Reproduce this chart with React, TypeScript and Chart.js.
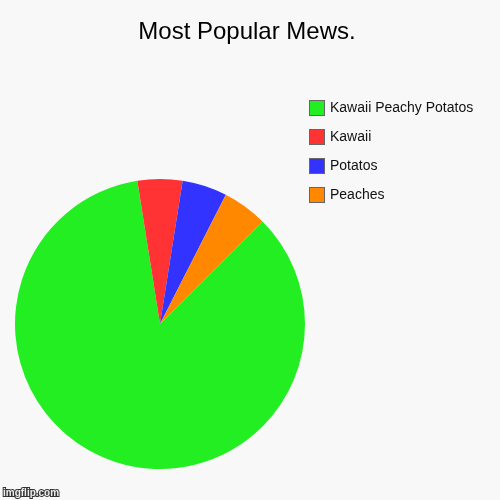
import { Chart, registerables } from 'chart.js';
import { useEffect, useRef } from 'react';

Chart.register(...registerables);

const labels = ['Kawaii Peachy Potatos', 'Kawaii', 'Potatos', 'Peaches'];
const values = [85, 5, 5, 5];
const colors = ['#22ee22', '#ff3333', '#3333ff', '#ff8800'];

const FONT = '"Liberation Sans", Arial, sans-serif';

const overlay = {
  id: 'overlay',
  afterDraw(chart: any) {
    const ctx = chart.ctx as CanvasRenderingContext2D;
    ctx.save();
    // title
    ctx.fillStyle = '#000';
    ctx.font = `24px ${FONT}`;
    ctx.textAlign = 'center';
    ctx.textBaseline = 'middle';
    ctx.fillText('Most Popular Mews.', 247, 32);

    // legend
    const names = chart.data.labels as string[];
    const fills = chart.data.datasets[0].backgroundColor as string[];
    ctx.font = `14px ${FONT}`;
    ctx.textAlign = 'left';
    names.forEach((name, i) => {
      const y = 100 + i * 29;
      ctx.fillStyle = fills[i];
      ctx.fillRect(309.5, y + 0.5, 15, 15);
      ctx.strokeStyle = '#666';
      ctx.lineWidth = 1;
      ctx.strokeRect(309.5, y + 0.5, 15, 15);
      ctx.fillStyle = '#111';
      ctx.fillText(name, 330, y + 8.5);
    });

    // watermark
    ctx.font = `bold 10px ${FONT}`;
    ctx.textBaseline = 'alphabetic';
    ctx.lineWidth = 2;
    ctx.strokeStyle = '#333';
    ctx.strokeText('imgflip.com', 3, 496);
    ctx.fillStyle = '#eee';
    ctx.fillText('imgflip.com', 3, 496);
    ctx.restore();
  },
};

function PieCard() {
  const canvasRef = useRef<HTMLCanvasElement | null>(null);

  useEffect(() => {
    const chart = new Chart(canvasRef.current as HTMLCanvasElement, {
      type: 'pie',
      data: {
        labels,
        datasets: [
          {
            data: values,
            backgroundColor: colors,
            borderWidth: 0,
          },
        ],
      },
      options: {
        animation: false,
        responsive: false,
        rotation: 45,
        layout: { padding: { left: 15, right: 195, top: 179, bottom: 31 } },
        plugins: {
          legend: { display: false },
          title: { display: false },
          tooltip: { enabled: false },
        },
      },
      plugins: [overlay],
    });

    return () => chart.destroy();
  }, []);

  return (
    <div
      style={{
        position: 'absolute',
        left: 0,
        top: 0,
        width: 500,
        height: 500,
        background: '#f8f8f8',
      }}
    >
      <canvas ref={canvasRef} width={500} height={500}></canvas>
    </div>
  );
}

export default PieCard;
